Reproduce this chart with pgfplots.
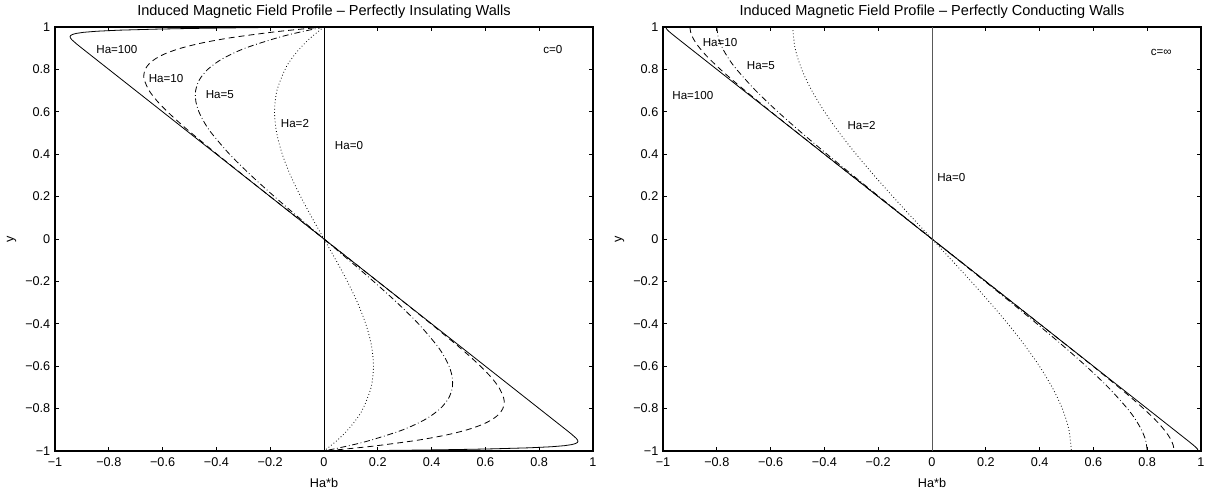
\documentclass[border=0pt]{standalone}
\usepackage{pgfplots}
\pgfplotsset{compat=1.18}
\usepackage{fontspec}
\setmainfont{Liberation Sans}

\newcommand{\tickfont}{\fontsize{9.5}{11}\selectfont}
\newcommand{\notefont}{\fontsize{8.7}{10}\selectfont}
\newcommand{\titlefont}{\fontsize{10.9}{12}\selectfont}

\pgfplotsset{
  matlab/.style={
    scale only axis,width=403.5pt,height=318pt,anchor=south west,
    xmin=-1,xmax=1,ymin=-1,ymax=1,
    axis line style={line width=0.9pt},
    tick align=inside,major tick length=3.2pt,tick style={line width=0.5pt,black},
    xtick={-1,-0.8,-0.6,-0.4,-0.2,0,0.2,0.4,0.6,0.8,1},
    ytick={-1,-0.8,-0.6,-0.4,-0.2,0,0.2,0.4,0.6,0.8,1},
    xticklabels={−1,−0.8,−0.6,−0.4,−0.2,0,0.2,0.4,0.6,0.8,1},
    yticklabels={−1,−0.8,−0.6,−0.4,−0.2,0,0.2,0.4,0.6,0.8,1},
    tick label style={font=\tickfont},
    xticklabel style={yshift=-1.5pt},
    label style={font=\tickfont},
    xlabel style={yshift=-1.5pt},
    title style={font=\titlefont,yshift=-3.5pt},
    xlabel={Ha*b},ylabel={y},
    every axis plot/.append style={black,line width=0.6pt},
  },
  ha100/.style={solid},
  ha10/.style={dash pattern=on 4.5pt off 3pt},
  ha5/.style={dash pattern=on 4.5pt off 2pt on 0.6pt off 2pt},
  ha2/.style={dash pattern=on 0.6pt off 1.8pt},
}

\begin{document}
\begin{tikzpicture}
\useasboundingbox (0,0) rectangle (912.75pt,369.75pt);

% perfectly insulating walls, c=0
\begin{axis}[matlab,at={(41.25pt,31.5pt)},
  title={Induced Magnetic Field Profile – Perfectly Insulating Walls}]
\addplot[ha100] coordinates {(0,1) (-0.0942,0.999) (-0.1793,0.998) (-0.2562,0.997) (-0.3257,0.996) (-0.3885,0.995) (-0.4452,0.994) (-0.5427,0.992) (-0.6221,0.99) (-0.7619,0.985) (-0.8447,0.98) (-0.8929,0.975) (-0.9202,0.97) (-0.9348,0.965) (-0.9417,0.96) (-0.9439,0.955) (-0.9433,0.95) (-0.9375,0.94) (-0.9197,0.92) (-0.9,0.9) (0,0)
 (0.9,-0.9) (0.9197,-0.92) (0.9375,-0.94) (0.9433,-0.95) (0.9439,-0.955) (0.9417,-0.96) (0.9348,-0.965) (0.9202,-0.97) (0.8929,-0.975) (0.8447,-0.98) (0.7619,-0.985) (0.6221,-0.99) (0.5427,-0.992) (0.4452,-0.994) (0.3885,-0.995) (0.3257,-0.996) (0.2562,-0.997) (0.1793,-0.998) (0.0942,-0.999) (0,-1)};
\addplot[ha10,smooth] coordinates {(0,1) (-0.1050,0.9875) (-0.1962,0.975) (-0.3435,0.95) (-0.4526,0.925) (-0.5321,0.9) (-0.5885,0.875) (-0.6269,0.85) (-0.6512,0.825) (-0.6647,0.8) (-0.6696,0.775) (-0.6679,0.75) (-0.6502,0.7) (-0.6198,0.65) (-0.5817,0.6) (-0.5389,0.55) (-0.4933,0.5) (-0.3975,0.4) (-0.2991,0.3) (-0.1997,0.2) (-0.0999,0.1) (0,0)
 (0.0999,-0.1) (0.1997,-0.2) (0.2991,-0.3) (0.3975,-0.4) (0.4933,-0.5) (0.5389,-0.55) (0.5817,-0.6) (0.6198,-0.65) (0.6502,-0.7) (0.6679,-0.75) (0.6696,-0.775) (0.6647,-0.8) (0.6512,-0.825) (0.6269,-0.85) (0.5885,-0.875) (0.5321,-0.9) (0.4526,-0.925) (0.3435,-0.95) (0.1962,-0.975) (0.1050,-0.9875) (0,-1)};
\addplot[ha5,smooth] coordinates {(0,1) (-0.0925,0.975) (-0.1712,0.95) (-0.2935,0.9) (-0.3777,0.85) (-0.4322,0.8) (-0.4636,0.75) (-0.4771,0.7) (-0.4765,0.65) (-0.4650,0.6) (-0.4450,0.55) (-0.4185,0.5) (-0.3511,0.4) (-0.2713,0.3) (-0.1842,0.2) (-0.0930,0.1) (0,0)
 (0.0930,-0.1) (0.1842,-0.2) (0.2713,-0.3) (0.3511,-0.4) (0.4185,-0.5) (0.4450,-0.55) (0.4650,-0.6) (0.4765,-0.65) (0.4771,-0.7) (0.4636,-0.75) (0.4322,-0.8) (0.3777,-0.85) (0.2935,-0.9) (0.1712,-0.95) (0.0925,-0.975) (0,-1)};
\addplot[ha2,smooth] coordinates {(0,1) (-0.0489,0.95) (-0.0888,0.9) (-0.1206,0.85) (-0.1450,0.8) (-0.1750,0.7) (-0.1838,0.6) (-0.1760,0.5) (-0.1551,0.4) (-0.1245,0.3) (-0.0868,0.2) (-0.0445,0.1) (0,0)
 (0.0445,-0.1) (0.0868,-0.2) (0.1245,-0.3) (0.1551,-0.4) (0.1760,-0.5) (0.1838,-0.6) (0.1750,-0.7) (0.1450,-0.8) (0.1206,-0.85) (0.0888,-0.9) (0.0489,-0.95) (0,-1)};
\addplot[solid] coordinates {(0,-1) (0,1)};
\node[font=\notefont] at (axis cs:-0.77,0.896) {Ha=100};
\node[font=\notefont] at (axis cs:-0.587,0.759) {Ha=10};
\node[font=\notefont] at (axis cs:-0.387,0.679) {Ha=5};
\node[font=\notefont] at (axis cs:-0.108,0.547) {Ha=2};
\node[font=\notefont] at (axis cs:0.093,0.439) {Ha=0};
\node[font=\notefont] at (axis cs:0.851,0.896) {c=0};
\end{axis}

% perfectly conducting walls, c=infinity
\begin{axis}[matlab,at={(497.25pt,31.5pt)},
  title={Induced Magnetic Field Profile – Perfectly Conducting Walls}]
\addplot[ha100] coordinates {(-0.99,1) (-0.9863,0.99) (-0.9786,0.98) (-0.9695,0.97) (-0.9499,0.95) (0,0)
 (0.9499,-0.95) (0.9695,-0.97) (0.9786,-0.98) (0.9863,-0.99) (0.99,-1)};
\addplot[ha10,smooth] coordinates {(-0.9,1) (-0.8971,0.975) (-0.8894,0.95) (-0.8778,0.925) (-0.8632,0.9) (-0.8464,0.875) (-0.8277,0.85) (-0.7865,0.8) (-0.7418,0.75) (-0.6950,0.7) (-0.5982,0.6) (-0.4993,0.5) (-0.3998,0.4) (-0.2,0.2) (0,0)
 (0.2,-0.2) (0.3998,-0.4) (0.4993,-0.5) (0.5982,-0.6) (0.6950,-0.7) (0.7418,-0.75) (0.7865,-0.8) (0.8277,-0.85) (0.8464,-0.875) (0.8632,-0.9) (0.8778,-0.925) (0.8894,-0.95) (0.8971,-0.975) (0.9,-1)};
\addplot[ha5,smooth] coordinates {(-0.8,1) (-0.7943,0.95) (-0.7787,0.9) (-0.7556,0.85) (-0.7265,0.8) (-0.6554,0.7) (-0.5730,0.6) (-0.4837,0.5) (-0.3902,0.4) (-0.2943,0.3) (-0.1968,0.2) (-0.0986,0.1) (0,0)
 (0.0986,-0.1) (0.1968,-0.2) (0.2943,-0.3) (0.3902,-0.4) (0.4837,-0.5) (0.5730,-0.6) (0.6554,-0.7) (0.7265,-0.8) (0.7556,-0.85) (0.7787,-0.9) (0.7943,-0.95) (0.8,-1)};
\addplot[ha2,smooth] coordinates {(-0.518,1) (-0.509,0.9) (-0.4843,0.8) (-0.4469,0.7) (-0.3994,0.6) (-0.3438,0.5) (-0.2820,0.4) (-0.2154,0.3) (-0.1454,0.2) (-0.0732,0.1) (0,0)
 (0.0732,-0.1) (0.1454,-0.2) (0.2154,-0.3) (0.2820,-0.4) (0.3438,-0.5) (0.3994,-0.6) (0.4469,-0.7) (0.4843,-0.8) (0.509,-0.9) (0.518,-1)};
\addplot[solid,black!65] coordinates {(0,-1) (0,1)};
\node[font=\notefont] at (axis cs:-0.788,0.925) {Ha=10};
\node[font=\notefont] at (axis cs:-0.636,0.816) {Ha=5};
\node[font=\notefont] at (axis cs:-0.889,0.675) {Ha=100};
\node[font=\notefont] at (axis cs:-0.262,0.533) {Ha=2};
\node[font=\notefont] at (axis cs:0.072,0.292) {Ha=0};
\node[font=\notefont] at (axis cs:0.852,0.882) {c=∞};
\end{axis}
\end{tikzpicture}
\end{document}
